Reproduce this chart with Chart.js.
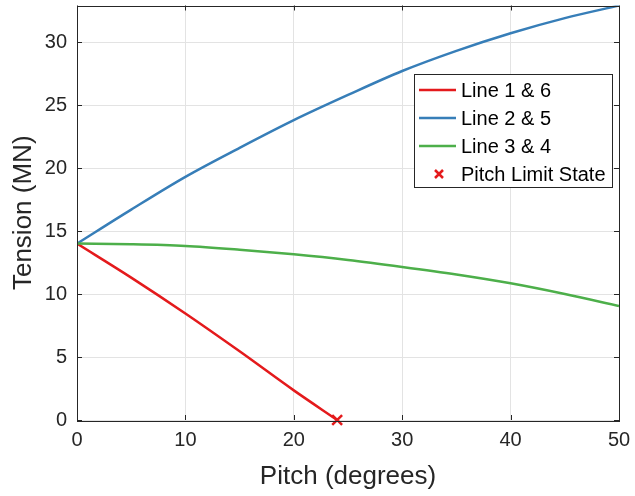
<!DOCTYPE html>
<html>
<head>
<meta charset="utf-8">
<script src="https://cdn.jsdelivr.net/npm/chart.js@4.4.0/dist/chart.umd.min.js"></script>
<style>
  html, body { margin: 0; padding: 0; background: #ffffff; }
  #frame { width: 635px; height: 496px; overflow: hidden; }
  #wrap { width: 635px; height: 500px; margin-top: -4px; }
</style>
</head>
<body>
<div id="frame"><div id="wrap"><canvas id="chartTension"></canvas></div></div>
<script>
// Pitch (degrees) sample points
const pitchDeg = [0, 5, 10, 15, 20, 25, 30, 35, 40, 45, 50];
// Tension (MN) per mooring line pair
const line25 = [14, 16.7, 19.3, 21.6, 23.8, 25.8, 27.7, 29.3, 30.7, 31.9, 32.9];
const line34 = [14, 13.95, 13.82, 13.52, 13.15, 12.7, 12.15, 11.55, 10.85, 10.0, 9.05];
// Line 1 & 6 goes slack at the limit state
const line16Pitch = [0, 5, 10, 15, 20, 24];
const line16 = [14, 11.3, 8.45, 5.45, 2.35, 0];
const limitPitch = [24];
const limitTension = [0];

const xTicks = [0, 10, 20, 30, 40, 50];
const yTicks = [0, 5, 10, 15, 20, 25, 30];

const axisColor = "#262626";
const fontName = "'Liberation Sans', Arial, sans-serif";

function toPoints(xs, ys) {
  return xs.map(function (x, i) { return { x: x, y: ys[i] }; });
}

// MATLAB-style box with inward tick marks
const frameTicks = {
  id: "frameTicks",
  afterDatasetsDraw: function (chart) {
    const ctx = chart.ctx;
    const a = chart.chartArea;
    const xs = chart.scales.x;
    const ys = chart.scales.y;
    const len = 5;
    ctx.save();
    ctx.strokeStyle = axisColor;
    ctx.lineWidth = 1;
    ctx.beginPath();
    xTicks.forEach(function (v) {
      const px = Math.round(xs.getPixelForValue(v)) + 0.5;
      ctx.moveTo(px, a.bottom); ctx.lineTo(px, a.bottom - len);
      ctx.moveTo(px, a.top); ctx.lineTo(px, a.top + len);
    });
    yTicks.forEach(function (v) {
      const py = Math.round(ys.getPixelForValue(v)) + 0.5;
      ctx.moveTo(a.left, py); ctx.lineTo(a.left + len, py);
      ctx.moveTo(a.right, py); ctx.lineTo(a.right - len, py);
    });
    ctx.stroke();
    ctx.strokeRect(Math.round(a.left) + 0.5, Math.round(a.top) + 0.5,
      Math.round(a.right - a.left), Math.round(a.bottom - a.top));
    ctx.restore();
  }
};

// Legend box drawn inside the axes
const boxLegend = {
  id: "boxLegend",
  afterDraw: function (chart) {
    const ctx = chart.ctx;
    const a = chart.chartArea;
    const items = chart.data.datasets;
    ctx.save();
    ctx.font = "20px " + fontName;
    const textW = Math.max.apply(null, items.map(function (d) { return ctx.measureText(d.label).width; }));
    const rowH = 28;
    const w = Math.round(47 + textW + 6);
    const h = items.length * rowH + 1;
    const x = Math.round(a.right - 7 - w);
    const y = Math.round(a.top + 68);
    ctx.fillStyle = "#ffffff";
    ctx.fillRect(x, y, w, h);
    ctx.strokeStyle = axisColor;
    ctx.lineWidth = 1;
    ctx.strokeRect(x + 0.5, y + 0.5, w, h);
    ctx.textBaseline = "middle";
    items.forEach(function (d, i) {
      const cy = y + 16 + i * rowH;
      ctx.strokeStyle = d.borderColor;
      ctx.lineWidth = 2.5;
      ctx.beginPath();
      if (d.showLine === false) {
        ctx.moveTo(x + 21, cy - 4); ctx.lineTo(x + 29, cy + 4);
        ctx.moveTo(x + 21, cy + 4); ctx.lineTo(x + 29, cy - 4);
      } else {
        ctx.moveTo(x + 5, cy); ctx.lineTo(x + 42, cy);
      }
      ctx.stroke();
      ctx.fillStyle = "#000000";
      ctx.fillText(d.label, x + 47, cy + 1);
    });
    ctx.restore();
  }
};

const ctx = document.getElementById("chartTension").getContext("2d");
const chartTension = new Chart(ctx, {
  type: "scatter",
  data: {
    datasets: [
      {
        label: "Line 1 & 6",
        data: toPoints(line16Pitch, line16),
        borderColor: "#e41a1c",
        showLine: true,
        borderWidth: 2.5,
        pointRadius: 0,
        cubicInterpolationMode: "monotone",
        order: 4,
      },
      {
        label: "Line 2 & 5",
        data: toPoints(pitchDeg, line25),
        borderColor: "#377eb8",
        showLine: true,
        borderWidth: 2.5,
        pointRadius: 0,
        cubicInterpolationMode: "monotone",
        order: 3,
      },
      {
        label: "Line 3 & 4",
        data: toPoints(pitchDeg, line34),
        borderColor: "#4daf4a",
        showLine: true,
        borderWidth: 2.5,
        pointRadius: 0,
        cubicInterpolationMode: "monotone",
        order: 2,
      },
      {
        label: "Pitch Limit State",
        data: toPoints(limitPitch, limitTension),
        borderColor: "#e41a1c",
        backgroundColor: "#e41a1c",
        showLine: false,
        pointStyle: "crossRot",
        pointRadius: 7,
        pointBorderWidth: 2.5,
        clip: false,
        order: 1,
      },
    ],
  },
  options: {
    responsive: true,
    maintainAspectRatio: false,
    animation: false,
    layout: {
      padding: { top: 2, right: 16, left: 0, bottom: 0 },
    },
    scales: {
      x: {
        type: "linear",
        min: 0,
        max: 50,
        afterFit: function (scale) {
          scale.height = 76;
          scale.paddingLeft = 0;
          scale.paddingRight = 0;
        },
        ticks: {
          stepSize: 10,
          padding: 8,
          color: axisColor,
          font: { family: fontName, size: 20 },
        },
        grid: { color: "#e3e3e3", drawTicks: false },
        border: { display: false },
        title: {
          display: true,
          text: "Pitch (degrees)",
          color: axisColor,
          font: { family: fontName, size: 26 },
          padding: { top: 0, bottom: 4 },
        },
      },
      y: {
        type: "linear",
        min: 0,
        max: 32.9,
        afterFit: function (scale) {
          scale.width = 77;
          scale.paddingTop = 0;
          scale.paddingBottom = 0;
        },
        ticks: {
          stepSize: 5,
          includeBounds: false,
          padding: 10,
          color: axisColor,
          font: { family: fontName, size: 20 },
        },
        grid: { color: "#e3e3e3", drawTicks: false },
        border: { display: false },
        title: {
          display: true,
          text: "Tension (MN)",
          color: axisColor,
          font: { family: fontName, size: 26 },
          padding: { top: 8, bottom: 0 },
        },
      },
    },
    plugins: {
      legend: { display: false },
      tooltip: { enabled: false },
    },
  },
  plugins: [frameTicks, boxLegend],
});
</script>
</body>
</html>
